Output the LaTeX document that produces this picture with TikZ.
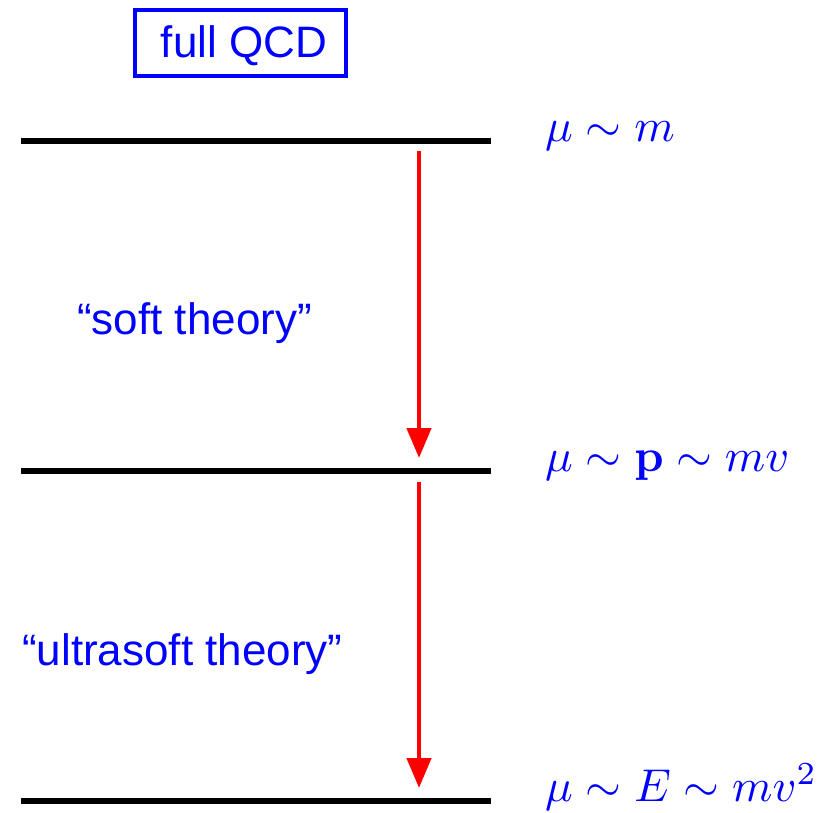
\documentclass[tikz,border=0pt]{standalone}
\usepackage[no-math]{fontspec}
\usepackage{graphicx}
\setmainfont{Liberation Sans}
\usetikzlibrary{arrows.meta}
\newcommand{\bigmath}[1]{\scalebox{4.6}{$#1$}}
\begin{document}
\begin{tikzpicture}[x=1pt,y=-1pt,
  level/.style={line width=5.5pt,black},
  flow/.style={line width=4.5pt,red,-{Triangle[length=30pt,width=24pt]}},
  blab/.style={text=blue,inner sep=0pt,font=\fontsize{44}{50}\selectfont},
  mlab/.style={text=blue,inner sep=0pt,anchor=base west}]
\useasboundingbox (0,0) rectangle (835,813);
% box
\node[draw=blue,line width=4pt,minimum width=211pt,minimum height=66pt,inner sep=0pt] (qcd) at (240.5,43) {};
\node[blab,anchor=base] (qcdt) at (244,58) {full QCD};
% levels
\coordinate (l1a) at (21,141); \coordinate (l1b) at (491,141);
\coordinate (l2a) at (21,471); \coordinate (l2b) at (491,471);
\coordinate (l3a) at (21,801); \coordinate (l3b) at (491,801);
\draw[level] (l1a) -- (l1b);
\draw[level] (l2a) -- (l2b);
\draw[level] (l3a) -- (l3b);
% arrows
\coordinate (a1s) at (419,151); \coordinate (a1e) at (419,458);
\coordinate (a2s) at (419,482); \coordinate (a2e) at (419,788);
\draw[flow] (a1s) -- (a1e);
\draw[flow] (a2s) -- (a2e);
% labels
\node[mlab] (m1) at (545,142) {\bigmath{\mu\sim m}};
\node[mlab] (m2) at (545,471) {\bigmath{\mu\sim\mathbf{p}\sim mv}};
\node[mlab] (m3) at (545,801) {\bigmath{\mu\sim E\sim mv^2}};
\node[blab,anchor=base west] (soft) at (77,334) {``soft theory''};
\node[blab,anchor=base west] (usoft) at (22,665) {``ultrasoft theory''};
\end{tikzpicture}
\end{document}
